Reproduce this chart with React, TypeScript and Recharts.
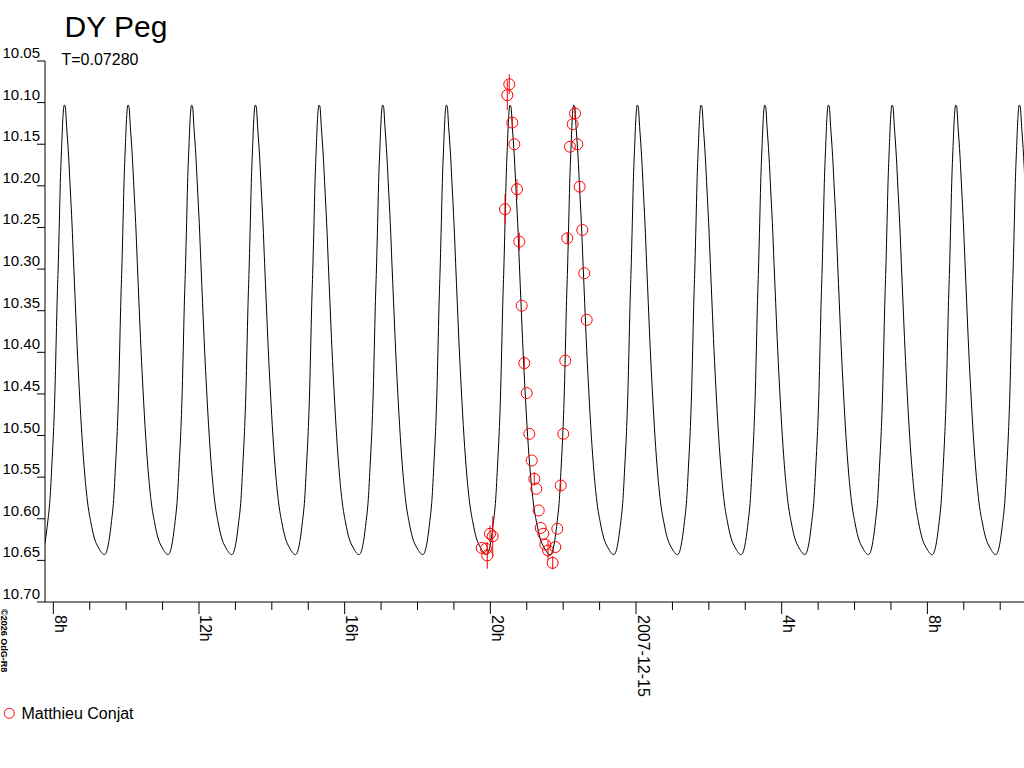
import { ComposedChart, Line, Scatter, ErrorBar, XAxis, YAxis } from 'recharts';

const FONT = '"Liberation Sans", Arial, Helvetica, sans-serif';

// maxima of the fitted light curve, in hours counted from 2007-12-14 0h
const PEAK_HOURS = [
  8.302, 10.051, 11.797, 13.546, 15.295, 17.042, 18.791, 20.54,
  22.289, 24.035, 25.784, 27.533, 29.28, 31.029, 32.778, 34.524,
];

// one cycle of the fitted curve: offset from maximum (h) and magnitude
const CYCLE_OFFSETS = [
  -0.641, -0.549, -0.458, -0.394, -0.339, -0.302, -0.256, -0.229, -0.201, -0.165, -0.137, -0.11, -0.073, -0.037,
  0, 0.027, 0.064, 0.119, 0.165, 0.211, 0.256, 0.302, 0.357, 0.412, 0.485, 0.558, 0.641, 0.732, 0.824, 0.943, 1.098,
];
const CYCLE_MAGS = [
  10.643, 10.633, 10.605, 10.577, 10.533, 10.501, 10.445, 10.397, 10.345, 10.293, 10.245, 10.197, 10.153, 10.117,
  10.103, 10.105, 10.129, 10.165, 10.205, 10.245, 10.293, 10.341, 10.397, 10.445, 10.501, 10.545, 10.581, 10.605, 10.623, 10.635, 10.643,
];

// observations (Matthieu Conjat)
const OBS_HOURS = [
  19.763, 19.881, 19.916, 19.991, 20.065, 20.403, 20.466, 20.52, 20.603, 20.658,
  20.732, 20.795, 20.861, 20.932, 20.998, 21.07, 21.135, 21.207, 21.262, 21.328,
  21.383, 21.454, 21.509, 21.583, 21.712, 21.783, 21.839, 21.932, 22.003, 22.058,
  22.113, 22.187, 22.261, 22.325, 22.388, 22.453, 22.525, 22.58, 22.646,
];
const OBS_MAGS = [
  10.635, 10.636, 10.644, 10.618, 10.621, 10.228, 10.091, 10.078, 10.124, 10.15,
  10.204, 10.267, 10.344, 10.413, 10.449, 10.498, 10.53, 10.552, 10.564, 10.59,
  10.611, 10.618, 10.631, 10.638, 10.653, 10.634, 10.612, 10.56, 10.498, 10.41,
  10.263, 10.153, 10.126, 10.113, 10.15, 10.201, 10.253, 10.305, 10.361,
];
const OBS_ERRS = [
  0, 0, 0.016, 0.01, 0.024, 0.018, 0.018, 0.012, 0.007, 0,
  0.012, 0.011, 0, 0.008, 0, 0, 0, 0.008, 0, 0,
  0, 0, 0, 0.012, 0.008, 0, 0, 0.007, 0, 0,
  0.007, 0, 0, 0.008, 0, 0.007, 0, 0, 0,
];

const Y_TICKS = [10.05, 10.1, 10.15, 10.2, 10.25, 10.3, 10.35, 10.4, 10.45, 10.5, 10.55, 10.6, 10.65, 10.7];
const X_TICKS = [8, 9, 10, 11, 12, 13, 14, 15, 16, 17, 18, 19, 20, 21, 22, 23, 24, 25, 26, 27, 28, 29, 30, 31, 32, 33, 34];
const MAJOR_HOURS = [8, 12, 16, 20, 24, 28, 32];
const MAJOR_LABELS = ['8h', '12h', '16h', '20h', '2007-12-15', '4h', '8h'];

const modelData = PEAK_HOURS.flatMap((p) =>
  CYCLE_OFFSETS.map((d, j) => ({ t: p + d, m: CYCLE_MAGS[j] }))
);
const obsData = OBS_HOURS.map((t, i) => ({ t, m: OBS_MAGS[i], err: OBS_ERRS[i] }));

const PLOT_TOP = 61;
const PLOT_BOTTOM = 602;

function YTick({ y, payload }: any) {
  return (
    <text x={40} y={y - 3} textAnchor="end" fontSize={15} fontFamily={FONT} fill="#000">
      {Number(payload.value).toFixed(2)}
    </text>
  );
}

function XTick({ x, payload }: any) {
  const i = MAJOR_HOURS.indexOf(payload.value);
  const lx = x + 1.5;
  return (
    <g>
      <line x1={x} x2={x} y1={PLOT_BOTTOM} y2={PLOT_BOTTOM + (i >= 0 ? 12 : 8)} stroke="#000" />
      {i >= 0 && (
        <text x={lx} y={615} transform={`rotate(90 ${lx} 615)`} fontSize={16} fontFamily={FONT} fill="#000">
          {MAJOR_LABELS[i]}
        </text>
      )}
    </g>
  );
}

const Ring = (props: any) => (
  <circle cx={props.cx} cy={props.cy} r={5.5} fill="none" stroke="#ff0000" strokeWidth={1} />
);

export default function App() {
  return (
    <div style={{ position: 'absolute', left: 0, top: 0, width: 1024, height: 768, background: '#fff', overflow: 'hidden' }}>
      <ComposedChart width={1024} height={768} margin={{ top: PLOT_TOP, right: 0, bottom: 0, left: 0 }}>
        <XAxis
          type="number"
          dataKey="t"
          domain={[7.772, 34.653]}
          allowDataOverflow
          ticks={X_TICKS}
          interval={0}
          height={768 - PLOT_BOTTOM}
          axisLine={{ stroke: '#000' }}
          tickLine={false}
          tick={<XTick />}
        />
        <YAxis
          type="number"
          dataKey="m"
          reversed
          domain={[10.05, 10.7]}
          allowDataOverflow
          ticks={Y_TICKS}
          interval={0}
          width={45}
          tickSize={8}
          axisLine={{ stroke: '#000' }}
          tickLine={{ stroke: '#000' }}
          tick={<YTick />}
        />
        <Line
          data={modelData}
          dataKey="m"
          type="monotoneX"
          stroke="#000"
          strokeWidth={1}
          dot={false}
          isAnimationActive={false}
        />
        <Scatter data={obsData} dataKey="m" shape={Ring} isAnimationActive={false}>
          <ErrorBar dataKey="err" direction="y" width={0} stroke="#ff0000" strokeWidth={1} />
        </Scatter>
      </ComposedChart>
      <svg width={1024} height={768} style={{ position: 'absolute', left: 0, top: 0, pointerEvents: 'none' }}>
        <text x={64.5} y={37} fontSize={30} fontFamily={FONT} fill="#000">DY Peg</text>
        <text x={61.5} y={65} fontSize={16} fontFamily={FONT} fill="#000">T=0.07280</text>
        <text x={1} y={609} transform="rotate(90 1 609)" fontSize={9} fontWeight="bold" fontFamily={FONT} fill="#000">
          ©2026 OdG-R8
        </text>
        <circle cx={9.3} cy={713.3} r={5} fill="none" stroke="#ff0000" strokeWidth={1} />
        <text x={21.5} y={718.5} fontSize={16} fontFamily={FONT} fill="#000">Matthieu Conjat</text>
      </svg>
    </div>
  );
}
